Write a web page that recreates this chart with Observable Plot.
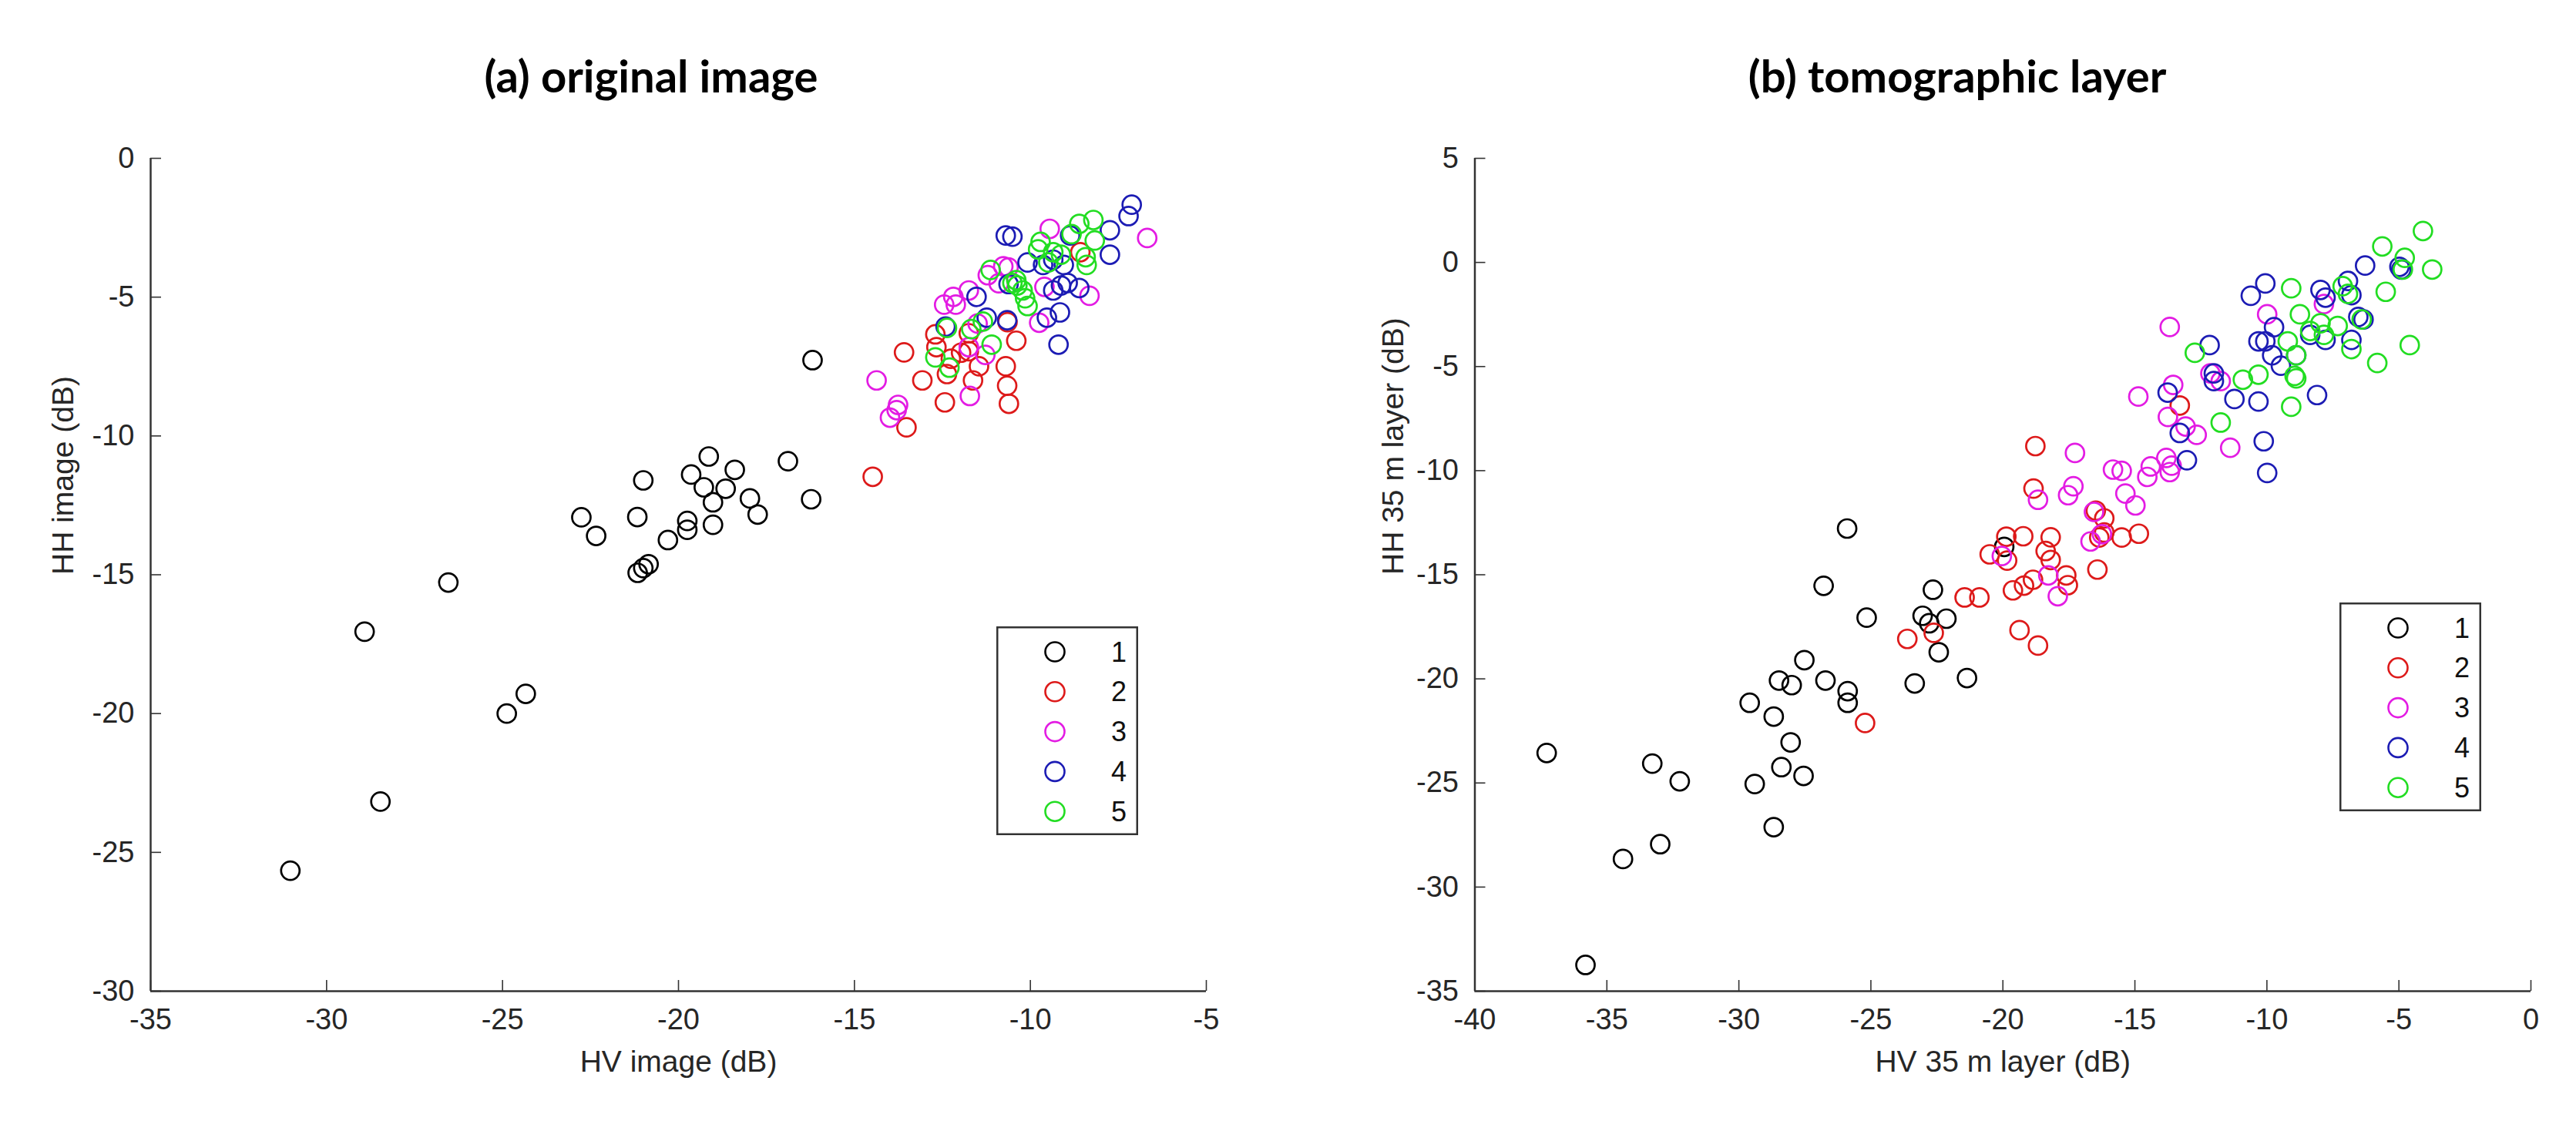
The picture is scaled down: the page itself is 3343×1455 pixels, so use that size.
<!DOCTYPE html>
<html><head><meta charset="utf-8">
<script src="https://cdn.jsdelivr.net/npm/d3@7"></script>
<script src="https://cdn.jsdelivr.net/npm/@observablehq/plot@0.6"></script>
<style>
html,body{margin:0;padding:0;background:#fff;}
#root{position:relative;width:3343px;height:1455px;overflow:hidden;background:#fff;}
.title{position:absolute;width:1000px;text-align:center;font-family:Lato,"Open Sans",sans-serif;font-weight:700;font-size:58px;line-height:58px;color:#000;top:69px;}
.panel{position:absolute;top:150px;}
</style></head><body><div id="root"></div>
<script>
// ---------- data ----------
const classes = ["1", "2", "3", "4", "5"];
const colors = ["#000000", "#dd1a1a", "#e31ce3", "#1c1cb4", "#22dd22"];

const origXTicks = [-35, -30, -25, -20, -15, -10, -5];
const origYTicks = [0, -5, -10, -15, -20, -25, -30];
const tomoXTicks = [-40, -35, -30, -25, -20, -15, -10, -5, 0];
const tomoYTicks = [5, 0, -5, -10, -15, -20, -25, -30, -35];

// (a) original image : [HV, HH] in dB
const orig1 = [[-16.19,-7.27],[-19.14,-10.74],[-16.89,-10.91],[-19.64,-11.39],[-18.40,-11.22],[-21.0,-11.60],[-19.28,-11.85],[-18.66,-11.90],[-17.97,-12.25],[-16.23,-12.28],[-19.02,-12.39],[-17.75,-12.83],[-22.76,-12.93],[-21.17,-12.92],[-19.75,-13.06],[-19.75,-13.38],[-19.02,-13.20],[-22.34,-13.60],[-20.30,-13.75],[-20.85,-14.62],[-21.0,-14.76],[-21.16,-14.93],[-26.54,-15.28],[-28.92,-17.05],[-24.34,-19.29],[-24.88,-20.0],[-28.47,-23.17],[-31.03,-25.66]];
const orig2 = [[-14.48,-11.47],[-13.52,-9.69],[-13.59,-6.99],[-13.07,-8.0],[-12.43,-8.79],[-12.7,-6.34],[-12.67,-6.8],[-12.37,-7.77],[-12.26,-7.22],[-11.97,-7.0],[-11.75,-6.95],[-11.63,-8.0],[-11.46,-7.49],[-10.7,-7.49],[-10.66,-8.19],[-10.61,-8.84],[-10.4,-6.57],[-11.75,-6.3],[-10.65,-5.9],[-8.58,-3.38]];
const orig3 = [[-14.37,-8.0],[-13.76,-8.88],[-13.99,-9.34],[-13.8,-9.07],[-11.72,-8.56],[-12.45,-5.27],[-12.19,-4.99],[-12.12,-5.27],[-11.75,-4.76],[-11.21,-4.21],[-10.62,-3.93],[-9.45,-2.54],[-6.68,-2.87],[-8.32,-4.95],[-9.75,-5.92],[-11.28,-7.08],[-11.75,-6.8],[-9.6,-4.63],[-11.5,-5.95],[-10.9,-4.5],[-10.77,-3.89]];
const orig4 = [[-7.12,-1.67],[-7.21,-2.08],[-7.74,-2.59],[-7.74,-3.47],[-8.87,-2.78],[-10.7,-2.78],[-10.51,-2.82],[-10.08,-3.75],[-9.64,-3.84],[-9.35,-3.65],[-9.05,-3.84],[-9.13,-4.58],[-8.61,-4.67],[-8.94,-4.49],[-9.35,-4.76],[-10.62,-4.53],[-11.53,-4.99],[-12.41,-6.06],[-11.24,-5.74],[-10.66,-5.83],[-9.53,-5.74],[-9.16,-5.55],[-9.2,-6.71]];
const orig5 = [[-8.21,-2.22],[-8.61,-2.36],[-8.17,-2.96],[-8.43,-3.56],[-8.4,-3.84],[-9.71,-3.01],[-9.35,-3.38],[-9.49,-3.75],[-9.13,-3.47],[-10.51,-4.49],[-10.37,-4.58],[-10.22,-4.76],[-10.15,-5.04],[-10.08,-5.32],[-10.4,-4.39],[-11.13,-4.02],[-11.35,-5.88],[-11.68,-6.15],[-12.37,-6.11],[-11.1,-6.71],[-12.7,-7.17],[-12.3,-7.54],[-9.78,-3.28],[-8.83,-2.73]];

// (b) tomographic layer : [HV 35 m, HH 35 m] in dB
const tomo1 = [[-37.28,-23.56],[-35.81,-33.74],[-34.39,-28.65],[-32.98,-27.94],[-33.28,-24.07],[-32.24,-24.92],[-29.59,-21.15],[-29.40,-25.05],[-28.68,-21.81],[-28.68,-27.12],[-28.48,-20.08],[-28.0,-20.30],[-28.04,-23.05],[-28.39,-24.24],[-27.55,-24.66],[-27.52,-19.10],[-26.72,-20.08],[-26.79,-15.53],[-25.90,-12.78],[-25.88,-20.59],[-25.88,-21.15],[-25.16,-17.06],[-23.34,-20.22],[-23.04,-16.97],[-22.79,-17.33],[-22.65,-15.72],[-22.14,-17.11],[-22.43,-18.72],[-21.36,-19.96],[-19.95,-13.66]];
const tomo2 = [[-25.22,-22.12],[-23.62,-18.08],[-22.62,-17.79],[-21.45,-16.09],[-20.89,-16.09],[-20.5,-14.02],[-19.87,-13.17],[-19.23,-13.15],[-18.84,-10.86],[-19.37,-17.66],[-18.67,-18.4],[-19.62,-15.75],[-19.2,-15.52],[-18.86,-15.24],[-18.19,-13.2],[-18.38,-13.86],[-18.19,-14.29],[-17.6,-15.03],[-17.54,-15.5],[-19.84,-14.32],[-18.77,-8.82],[-16.48,-11.92],[-16.16,-12.29],[-16.35,-13.21],[-16.16,-12.97],[-15.5,-13.21],[-14.85,-13.03],[-16.42,-14.75],[-13.3,-6.87]];
const tomo3 = [[-18.67,-11.4],[-17.53,-11.18],[-20.04,-14.1],[-18.28,-15.03],[-17.92,-16.03],[-13.68,-3.1],[-14.87,-6.44],[-13.55,-5.88],[-13.75,-7.42],[-13.08,-7.88],[-17.27,-9.15],[-17.33,-10.75],[-15.83,-9.95],[-15.5,-10.01],[-14.4,-9.8],[-14.53,-10.3],[-13.81,-9.39],[-13.61,-9.76],[-13.68,-10.07],[-15.36,-11.1],[-14.98,-11.67],[-16.68,-13.4],[-16.25,-13.05],[-16.55,-11.98],[-9.99,-2.49],[-7.84,-2.0],[-12.66,-8.28],[-12.14,-5.33],[-11.75,-5.7],[-11.39,-8.9]];
const tomo4 = [[-6.28,-0.15],[-4.98,-0.21],[-4.91,-0.34],[-6.93,-0.89],[-7.97,-1.32],[-7.78,-1.69],[-6.80,-1.57],[-10.06,-1.01],[-10.61,-1.60],[-9.73,-3.11],[-10.32,-3.79],[-10.06,-3.79],[-9.80,-4.46],[-9.47,-4.96],[-8.89,-4.46],[-8.36,-3.48],[-7.78,-3.72],[-6.80,-3.72],[-6.54,-2.62],[-6.34,-2.74],[-12.17,-3.97],[-12.01,-5.33],[-12.01,-5.70],[-13.76,-6.25],[-11.23,-6.56],[-10.32,-6.68],[-8.10,-6.37],[-13.3,-8.19],[-13.03,-9.5],[-10.12,-8.59],[-9.99,-10.11]];
const tomo5 = [[-4.09,1.51],[-5.63,0.77],[-4.78,0.22],[-4.85,-0.34],[-3.74,-0.34],[-5.50,-1.41],[-9.08,-1.24],[-7.13,-1.14],[-6.93,-1.51],[-8.75,-2.49],[-7.97,-2.92],[-7.32,-3.05],[-8.36,-3.29],[-9.21,-3.79],[-8.89,-4.46],[-8.95,-5.45],[-8.89,-5.57],[-6.80,-4.16],[-4.59,-3.97],[-5.82,-4.83],[-12.73,-4.34],[-10.91,-5.63],[-10.32,-5.39],[-9.08,-6.93],[-11.75,-7.69],[-6.41,-2.74],[-7.84,-3.48]];

// ---------- build ----------
const toRows = groups => groups.flatMap((arr, i) => arr.map(([x, y]) => ({x, y, cls: classes[i]})));
const origData = toRows([orig1, orig2, orig3, orig4, orig5]);
const tomoData = toRows([tomo1, tomo2, tomo3, tomo4, tomo5]);

const H = 1305, MT = 55, MB = 169;
const AX = "#333333", TXT = "#262626";

function panel({data, xDomain, yDomain, xTicks, yTicks, xLabel, yLabel, width, marginLeft, marginRight, yLabelDx}) {
  const frameW = width - marginLeft - marginRight, frameH = H - MT - MB;
  return Plot.plot({
    width, height: H, marginLeft, marginRight, marginTop: MT, marginBottom: MB,
    x: {domain: xDomain}, y: {domain: yDomain},
    color: {domain: classes, range: colors},
    style: {fontFamily: "'Liberation Sans', Arial, sans-serif", background: "transparent", overflow: "visible"},
    marks: [
      Plot.dot(data, {x: "x", y: "y", r: 12, stroke: "cls", fill: "none", strokeWidth: 2.7}),
      Plot.ruleY([yDomain[0]], {stroke: AX, strokeWidth: 2.5}),
      Plot.ruleX([xDomain[0]], {stroke: AX, strokeWidth: 2.5}),
      Plot.tickX(xTicks, {x: d => d, insetTop: frameH - 14, stroke: AX, strokeWidth: 1.6}),
      Plot.tickY(yTicks, {y: d => d, insetRight: frameW - 14, stroke: AX, strokeWidth: 1.6}),
      Plot.axisX(xTicks, {tickSize: 0, tickPadding: 23, tickFormat: d => String(d), label: null, fontSize: 38, color: TXT}),
      Plot.axisY(yTicks, {tickSize: 0, tickPadding: 21, tickFormat: d => String(d), label: null, fontSize: 38, color: TXT}),
      Plot.text([xLabel], {frameAnchor: "bottom", dy: 104, fontSize: 39, fill: TXT}),
      Plot.text([yLabel], {frameAnchor: "left", rotate: -90, dx: yLabelDx, fontSize: 39, fill: TXT})
    ]
  });
}

function legend(left, top) {
  const W = 184, Hh = 271;
  const svg = d3.create("svg").attr("width", W).attr("height", Hh)
    .style("position", "absolute").style("left", left + "px").style("top", top + "px");
  svg.append("rect").attr("x", 1.25).attr("y", 1.25).attr("width", W - 2.5).attr("height", Hh - 2.5)
    .attr("fill", "#fff").attr("stroke", AX).attr("stroke-width", 2.5);
  classes.forEach((c, i) => {
    const cy = 33 + i * 51.8;
    svg.append("circle").attr("cx", 76).attr("cy", cy).attr("r", 12.5)
      .attr("fill", "none").attr("stroke", colors[i]).attr("stroke-width", 2.6);
    svg.append("text").attr("x", 149).attr("y", cy).attr("dy", "0.35em")
      .attr("font-family", "'Liberation Sans', Arial, sans-serif").attr("font-size", 36)
      .attr("fill", "#111").text(c);
  });
  return svg.node();
}

const root = document.getElementById("root");

function addTitle(text, center) {
  const d = document.createElement("div");
  d.className = "title";
  d.style.left = (center - 500) + "px";
  d.textContent = text;
  root.appendChild(d);
}

const left = panel({
  data: origData, xDomain: [-35, -5], yDomain: [-30, 0],
  xTicks: origXTicks, yTicks: origYTicks,
  xLabel: "HV image (dB)", yLabel: "HH image (dB)",
  width: 1660, marginLeft: 195, marginRight: 95, yLabelDx: -113
});
left.classList.add("panel"); left.style.left = "0px";
root.appendChild(left);

const right = panel({
  data: tomoData, xDomain: [-40, 0], yDomain: [-35, 5],
  xTicks: tomoXTicks, yTicks: tomoYTicks,
  xLabel: "HV 35 m layer (dB)", yLabel: "HH 35 m layer (dB)",
  width: 1683, marginLeft: 253.5, marginRight: 59, yLabelDx: -105.5
});
right.classList.add("panel"); right.style.left = "1660px";
root.appendChild(right);

addTitle("(a) original image", 845);
addTitle("(b) tomographic layer", 2540);
root.appendChild(legend(1293, 813));
root.appendChild(legend(3036, 782));
</script>
</body></html>
